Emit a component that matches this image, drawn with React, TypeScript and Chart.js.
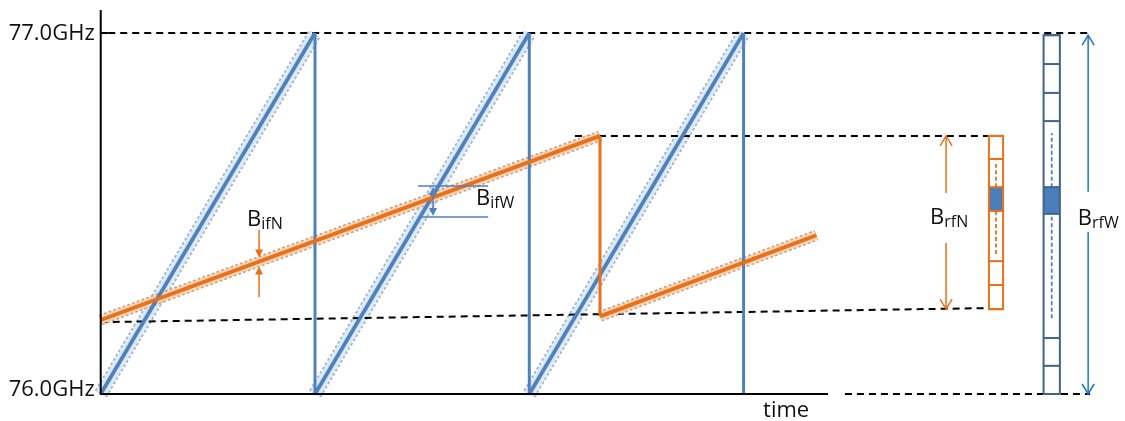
import React, { useEffect, useRef } from 'react';
import { Chart, registerables } from 'chart.js';

Chart.register(...registerables);

// ---- data (time in chirp periods, frequency in GHz) ----
const wideRampStartT = [0, 1, 2];
const wideRampEndT = [1, 2, 3];
const wideStartF = 76.0;
const wideEndF = 77.0;

const narrowRampStartT = [0, 2.33];
const narrowRampEndT = [2.33, 3.34];
const narrowRampStartF = [76.205, 76.215];
const narrowRampEndF = [76.715, 76.44];

const yTickValues = [76.0, 77.0];
const yTickLabels = ['76.0GHz', '77.0GHz'];
const xAxisLabel = 'time';
const timeAxisEnd = 3.394;

// reference (dashed) lines: [t0, f0, t1, f1]
const refTopLine = [0.035, wideEndF, 4.617, wideEndF];
const refNarrowTop = [2.213, narrowRampEndF[0], 4.14, narrowRampEndF[0]];
const refNarrowBottom = [0, 76.199, 4.14, 76.238];
const refBottomLine = [3.473, wideStartF, 4.617, wideStartF];

// RF band boxes (frequency cell edges)
const narrowBoxEdges = [76.235, 76.302, 76.368, 76.507, 76.573, 76.651, 76.715];
const narrowBoxFilled = 3; // cell index (from bottom) that is filled
const wideBoxEdges = [76.0, 76.078, 76.155, 76.499, 76.573, 76.756, 76.834, 76.914, 76.994];
const wideBoxFilled = 3;
const narrowBoxT = [4.145, 4.211];
const wideBoxT = [4.4, 4.476];
const narrowBoxDash = [76.388, 76.637];
const wideBoxDash = [76.21, 76.723];

// IF bandwidth markers
const ifNArrowT = 0.739;
const ifNTails = [76.454, 76.269];
const ifWLinesT = [1.481, 1.808];
const ifWArrowT = 1.551;
const ifWEdges = [76.49, 76.576];

// RF bandwidth arrows
const rfNArrowT = 3.945;
const rfNGap = [76.418, 76.557];
const rfWArrowT = 4.608;
const rfWGap = [76.449, 76.56];

// labels
const labelTexts = [
  { main: 'B', sub: 'ifN', t: 0.683, f: 76.465 },
  { main: 'B', sub: 'ifW', t: 1.751, f: 76.524 },
  { main: 'B', sub: 'rfN', t: 3.87, f: 76.471 },
  { main: 'B', sub: 'rfW', t: 4.56, f: 76.468 },
];
const timeLabelT = 3.091;
const timeLabelF = 75.936;

// ---- styles ----
const BLUE = '#4F81BD';
const ORANGE = '#E8711A';
const BRIGHT_BLUE = '#1B75C4';
const BOX_BLUE = '#41618F';
const FONT = '"Open Sans", "Liberation Sans", sans-serif';
const X_MIN = -0.47;
const X_MAX = 4.78;
const Y_MIN = 75.9252;
const Y_MAX = 77.0914;

function seg(points: { x: number; y: number }[], style: any) {
  return {
    data: points,
    showLine: true,
    pointRadius: 0,
    pointHoverRadius: 0,
    fill: false,
    tension: 0,
    borderCapStyle: 'butt',
    ...style,
  };
}

function buildDatasets() {
  const ds: any[] = [];
  // reference dashed lines
  [refTopLine, refNarrowTop, refNarrowBottom, refBottomLine].forEach((r) => {
    ds.push(
      seg([{ x: r[0], y: r[1] }, { x: r[2], y: r[3] }], {
        borderColor: '#000',
        borderWidth: 2,
        borderDash: [7, 5],
        order: 45,
      })
    );
  });
  // wide chirp ramps
  wideRampStartT.forEach((t0, i) => {
    const pts = [
      { x: t0, y: wideStartF },
      { x: wideRampEndT[i], y: wideEndF },
    ];
    ds.push(seg(pts, { borderColor: '#A3B6CC', borderWidth: 14, borderDash: [3, 2], order: 60 }));
    ds.push(seg(pts, { borderColor: '#DCEAF8', borderWidth: 10.5, order: 55 }));
    ds.push(seg(pts, { borderColor: BLUE, borderWidth: 3.8, order: 20 }));
    // fly-back
    ds.push(
      seg(
        [
          { x: wideRampEndT[i], y: wideEndF },
          { x: wideRampEndT[i], y: wideStartF },
        ],
        { borderColor: BLUE, borderWidth: 3, order: 20 }
      )
    );
  });
  // narrow chirp ramps
  narrowRampStartT.forEach((t0, i) => {
    const pts = [
      { x: t0, y: narrowRampStartF[i] },
      { x: narrowRampEndT[i], y: narrowRampEndF[i] },
    ];
    ds.push(seg(pts, { borderColor: '#CFA07F', borderWidth: 11, borderDash: [3, 2], order: 40 }));
    ds.push(seg(pts, { borderColor: '#FAD3B4', borderWidth: 8, order: 35 }));
    ds.push(seg(pts, { borderColor: ORANGE, borderWidth: 3.8, order: 10 }));
    if (i + 1 < narrowRampStartT.length) {
      ds.push(
        seg(
          [
            { x: narrowRampEndT[i], y: narrowRampEndF[i] },
            { x: narrowRampStartT[i + 1], y: narrowRampStartF[i + 1] },
          ],
          { borderColor: ORANGE, borderWidth: 3, order: 10 }
        )
      );
    }
  });
  return ds;
}

function filledHead(ctx: CanvasRenderingContext2D, x: number, y: number, dir: number, w: number, l: number) {
  ctx.beginPath();
  ctx.moveTo(x, y);
  ctx.lineTo(x - w / 2, y - dir * l);
  ctx.lineTo(x + w / 2, y - dir * l);
  ctx.closePath();
  ctx.fill();
}

function openHead(ctx: CanvasRenderingContext2D, x: number, y: number, dir: number, w: number, l: number) {
  ctx.beginPath();
  ctx.moveTo(x - w, y - dir * l);
  ctx.lineTo(x, y);
  ctx.lineTo(x + w, y - dir * l);
  ctx.stroke();
}

function vline(ctx: CanvasRenderingContext2D, x: number, y0: number, y1: number) {
  ctx.beginPath();
  ctx.moveTo(x, y0);
  ctx.lineTo(x, y1);
  ctx.stroke();
}

function drawBox(
  ctx: CanvasRenderingContext2D,
  x0: number,
  x1: number,
  ys: number[],
  filled: number,
  stroke: string,
  dash: number[],
  dashColor: string
) {
  const w = x1 - x0;
  ctx.save();
  ctx.fillStyle = '#fff';
  ctx.fillRect(x0, ys[ys.length - 1], w, ys[0] - ys[ys.length - 1]);
  ctx.fillStyle = '#4A7EBB';
  ctx.fillRect(x0, ys[filled + 1], w, ys[filled] - ys[filled + 1]);
  // dashed centre line
  ctx.strokeStyle = dashColor;
  ctx.lineWidth = 1.8;
  ctx.setLineDash([4, 2.5]);
  const xc = (x0 + x1) / 2;
  vline(ctx, xc, dash[0], ys[filled]);
  vline(ctx, xc, ys[filled + 1], dash[1]);
  ctx.setLineDash([]);
  ctx.strokeStyle = stroke;
  ctx.lineWidth = 2;
  ctx.strokeRect(x0, ys[ys.length - 1], w, ys[0] - ys[ys.length - 1]);
  ys.forEach((y) => {
    ctx.beginPath();
    ctx.moveTo(x0, y);
    ctx.lineTo(x1, y);
    ctx.stroke();
  });
  ctx.restore();
}

function drawLabel(ctx: CanvasRenderingContext2D, x: number, y: number, main: string, sub: string) {
  ctx.fillStyle = '#111';
  ctx.textAlign = 'left';
  ctx.textBaseline = 'alphabetic';
  ctx.font = `22px ${FONT}`;
  ctx.fillText(main, x, y);
  const w = ctx.measureText(main).width;
  ctx.font = `16px ${FONT}`;
  ctx.fillText(sub, x + w, y + 3);
}

const annotPlugin = {
  id: 'diagramAnnotations',
  afterDatasetsDraw(chart: any) {
    const ctx: CanvasRenderingContext2D = chart.ctx;
    const xs = chart.scales.x;
    const ys = chart.scales.y;
    const X = (t: number) => xs.getPixelForValue(t);
    const Y = (f: number) => ys.getPixelForValue(f);
    ctx.save();

    // axes
    ctx.strokeStyle = '#000';
    ctx.lineWidth = 2;
    ctx.beginPath();
    ctx.moveTo(X(0), Y(77.064));
    ctx.lineTo(X(0), Y(wideStartF));
    ctx.lineTo(X(timeAxisEnd), Y(wideStartF));
    ctx.stroke();
    ctx.lineWidth = 2;
    ctx.beginPath();
    ctx.moveTo(X(0), Y(wideEndF));
    ctx.lineTo(X(0.035), Y(wideEndF));
    ctx.stroke();

    // y tick labels
    ctx.fillStyle = '#111';
    ctx.font = `22px ${FONT}`;
    ctx.textAlign = 'right';
    ctx.textBaseline = 'alphabetic';
    yTickValues.forEach((v, i) => {
      const off = v === wideEndF ? 7 : 2;
      ctx.fillText(yTickLabels[i], X(0) - 6, Y(v) + off);
    });
    ctx.textAlign = 'left';
    ctx.fillText(xAxisLabel, X(timeLabelT), Y(timeLabelF));

    // IF narrow arrows (orange, filled heads)
    ctx.strokeStyle = ORANGE;
    ctx.fillStyle = ORANGE;
    ctx.lineWidth = 1.5;
    const tN = ifNArrowT;
    const k = (tN - narrowRampStartT[0]) / (narrowRampEndT[0] - narrowRampStartT[0]);
    const fLine = narrowRampStartF[0] + k * (narrowRampEndF[0] - narrowRampStartF[0]);
    const topTip = Y(fLine) - 4;
    const botTip = Y(fLine) + 5;
    vline(ctx, X(tN), Y(ifNTails[0]), topTip - 6);
    filledHead(ctx, X(tN), topTip, 1, 8, 8);
    vline(ctx, X(tN), Y(ifNTails[1]), botTip + 6);
    filledHead(ctx, X(tN), botTip, -1, 8, 8);

    // IF wide marker (blue)
    ctx.strokeStyle = BLUE;
    ctx.fillStyle = BLUE;
    ctx.lineWidth = 1.5;
    ifWEdges.forEach((f) => {
      ctx.beginPath();
      ctx.moveTo(X(ifWLinesT[0]), Y(f));
      ctx.lineTo(X(ifWLinesT[1]), Y(f));
      ctx.stroke();
    });
    const yTop = Y(ifWEdges[1]);
    const yBot = Y(ifWEdges[0]);
    vline(ctx, X(ifWArrowT), yTop + 6, yBot - 6);
    filledHead(ctx, X(ifWArrowT), yTop + 1, -1, 8, 8);
    filledHead(ctx, X(ifWArrowT), yBot - 1, 1, 8, 8);

    // RF narrow arrow (orange, open heads)
    ctx.strokeStyle = ORANGE;
    ctx.lineWidth = 1.5;
    vline(ctx, X(rfNArrowT), Y(narrowRampEndF[0]), Y(rfNGap[1]));
    vline(ctx, X(rfNArrowT), Y(rfNGap[0]), Y(narrowBoxEdges[0]));
    openHead(ctx, X(rfNArrowT), Y(narrowRampEndF[0]), -1, 6, 10);
    openHead(ctx, X(rfNArrowT), Y(narrowBoxEdges[0]), 1, 6, 10);

    // RF wide arrow (blue, open heads)
    ctx.strokeStyle = BRIGHT_BLUE;
    const topW = wideBoxEdges[wideBoxEdges.length - 1];
    vline(ctx, X(rfWArrowT), Y(topW), Y(rfWGap[1]));
    vline(ctx, X(rfWArrowT), Y(rfWGap[0]), Y(wideStartF));
    openHead(ctx, X(rfWArrowT), Y(topW), -1, 6, 10);
    openHead(ctx, X(rfWArrowT), Y(wideStartF), 1, 6, 10);

    // boxes
    drawBox(
      ctx,
      X(narrowBoxT[0]),
      X(narrowBoxT[1]),
      narrowBoxEdges.map(Y),
      narrowBoxFilled,
      ORANGE,
      narrowBoxDash.map(Y),
      ORANGE
    );
    drawBox(
      ctx,
      X(wideBoxT[0]),
      X(wideBoxT[1]),
      wideBoxEdges.map(Y),
      wideBoxFilled,
      BOX_BLUE,
      wideBoxDash.map(Y),
      BLUE
    );

    // labels
    labelTexts.forEach((l) => drawLabel(ctx, X(l.t), Y(l.f), l.main, l.sub));

    ctx.restore();
  },
};

export default function App() {
  const ref = useRef<HTMLCanvasElement | null>(null);
  useEffect(() => {
    document.body.style.margin = '0';
    const canvas = ref.current;
    if (!canvas) return;
    const chart = new Chart(canvas, {
      type: 'scatter',
      data: { datasets: buildDatasets() },
      options: {
        animation: false,
        responsive: false,
        maintainAspectRatio: false,
        events: [],
        layout: { padding: 0 },
        plugins: { legend: { display: false }, tooltip: { enabled: false } },
        scales: {
          x: { type: 'linear', display: false, min: X_MIN, max: X_MAX },
          y: { type: 'linear', display: false, min: Y_MIN, max: Y_MAX },
        },
      },
      plugins: [annotPlugin],
    } as any);
    return () => chart.destroy();
  }, []);
  return (
    <div style={{ width: 1125, height: 421, background: '#fff' }}>
      <canvas ref={ref} width={1125} height={421} style={{ display: 'block' }} />
    </div>
  );
}
